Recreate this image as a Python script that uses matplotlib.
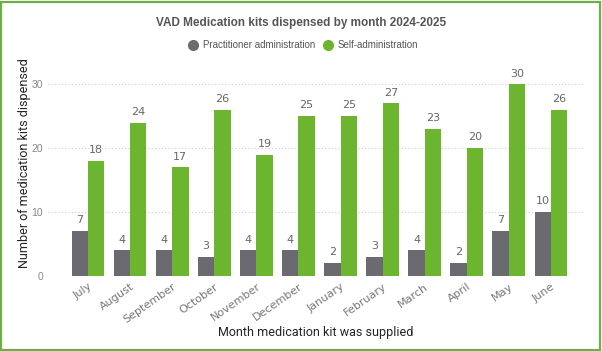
import matplotlib
matplotlib.use("Agg")
import matplotlib.pyplot as plt
import numpy as np
from matplotlib.patches import Rectangle
from matplotlib.lines import Line2D

months = ["July", "August", "September", "October", "November", "December",
          "January", "February", "March", "April", "May", "June"]
practitioner = [7, 4, 4, 3, 4, 4, 2, 3, 4, 2, 7, 10]
self_admin = [18, 24, 17, 26, 19, 25, 25, 27, 23, 20, 30, 26]
series_names = ["Practitioner administration", "Self-administration"]
yticks = [0, 10, 20, 30]

c_gray = "#6B6A70"
c_green = "#6CB52F"

fig = plt.figure(figsize=(6.02, 3.51), dpi=100)
ax = fig.add_axes([0.0797, 0.214, 0.8887, 0.586])

x = np.arange(len(months))
w = 0.39
b1 = ax.bar(x - w/2, practitioner, width=w, color=c_gray)
b2 = ax.bar(x + w/2, self_admin, width=w, color=c_green)
for bars, vals in ((b1, practitioner), (b2, self_admin)):
    for r, v in zip(bars, vals):
        ax.text(r.get_x() + r.get_width()/2, v + 0.9, str(v), ha="center", va="bottom",
                fontsize=8, color="#666666")

ax.set_xlim(-0.95, 11.76)
ax.set_ylim(0, 32.2)
ax.set_yticks(yticks)
ax.set_xticks(x)
ax.set_xticklabels(months, rotation=35, ha="right", rotation_mode="anchor", fontsize=8, color="#777777")
ax.tick_params(axis="y", labelsize=7.5, labelcolor="#888888", length=0, pad=3.5)
for t in ax.get_yticklabels():
    t.set_family("Liberation Sans")
ax.tick_params(axis="x", length=0, pad=4)
ax.grid(axis="y", linestyle=(0, (1, 2)), color="#C8C8C8", linewidth=0.8)
ax.set_axisbelow(True)
for s in ax.spines.values():
    s.set_visible(False)

ax.set_ylabel("Number of medication kits dispensed", fontsize=9, color="#252423", family="Roboto")
ax.yaxis.set_label_coords(-0.032, 0.55)
ax.set_xlabel("Month medication kit was supplied", fontsize=9, color="#252423", family="Roboto")
ax.xaxis.set_label_coords(0.5, -0.245)

fig.text(0.5, 0.935, "VAD Medication kits dispensed by month 2024-2025", ha="center", va="center",
         fontsize=8.5, fontweight="bold", color="#555555", family="Liberation Sans")

handles = [Line2D([], [], marker="o", linestyle="", markersize=7, color=c) for c in (c_gray, c_green)]
fig.legend(handles, series_names, loc="center", bbox_to_anchor=(0.5, 0.872), ncol=2, frameon=False,
           handletextpad=0.0, columnspacing=0.3, labelcolor="#555555",
           prop={"family": "Liberation Sans", "size": 7})

fig.patches.append(Rectangle((0.002, 0.003), 0.994, 0.992, transform=fig.transFigure,
                             fill=False, edgecolor="#70AD47", linewidth=1.6))

fig.savefig("out.png", dpi=100)
